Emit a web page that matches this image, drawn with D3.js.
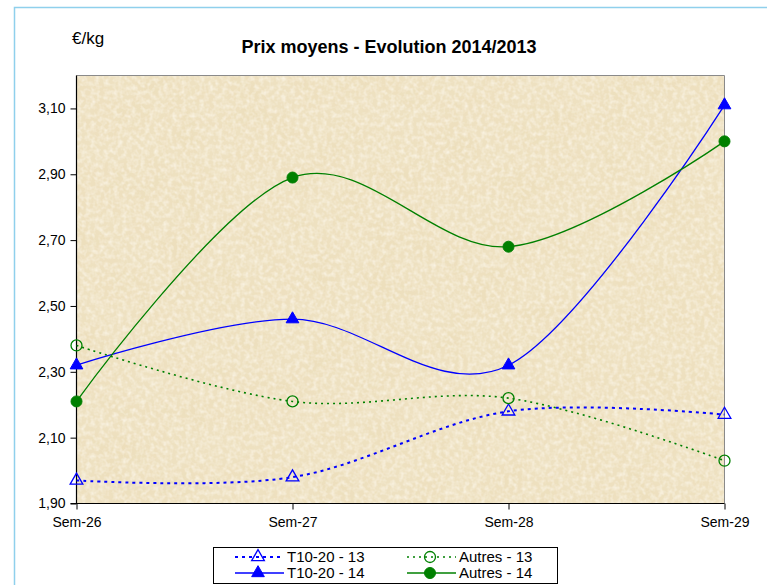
<!DOCTYPE html>
<html><head><meta charset="utf-8">
<script src="https://cdn.jsdelivr.net/npm/d3@7"></script>
<style>body{margin:0;background:#fff;}svg{display:block;font-family:"Liberation Sans",Arial,sans-serif;}</style>
</head><body>
<script>
const categories = ["Sem-26","Sem-27","Sem-28","Sem-29"];
const t1020_13 = [1.97, 1.98, 2.18, 2.17];
const autres_13 = [2.38, 2.21, 2.22, 2.03];
const t1020_14 = [2.32, 2.46, 2.32, 3.11];
const autres_14 = [2.21, 2.89, 2.68, 3.00];
const yTicks = [1.9, 2.1, 2.3, 2.5, 2.7, 2.9, 3.1];
const seriesNames = ["T10-20 - 13","Autres - 13","T10-20 - 14","Autres - 14"];

const W = 767, H = 585;
const svg = d3.select("body").append("svg").attr("width", W).attr("height", H);

// outer frame
svg.append("path").attr("d", "M14.5,585 V7.5 H767").attr("fill","none").attr("stroke","#8fd0ec").attr("stroke-width",1.5);

const L = 76.5, R = 724.5, T = 75.5, B = 503.5;
const x = d3.scalePoint().domain(categories).range([L, R]);
const y = d3.scaleLinear().domain([1.9, 3.2]).range([B, T]);

// texture
const defs = svg.append("defs");
const f = defs.append("filter").attr("id","paper").attr("x",0).attr("y",0).attr("width","100%").attr("height","100%");
f.append("feTurbulence").attr("type","fractalNoise").attr("baseFrequency","0.03").attr("numOctaves",4).attr("seed",7).attr("result","n");
f.append("feColorMatrix").attr("in","n").attr("type","matrix")
  .attr("values","0 0 0 0 0.84  0 0 0 0 0.72  0 0 0 0 0.48  1.3 0 0 0 -0.52");
const f2 = defs.append("filter").attr("id","paper2").attr("x",0).attr("y",0).attr("width","100%").attr("height","100%");
f2.append("feTurbulence").attr("type","fractalNoise").attr("baseFrequency","0.22").attr("numOctaves",2).attr("seed",3).attr("result","n");
f2.append("feColorMatrix").attr("in","n").attr("type","matrix")
  .attr("values","0 0 0 0 1  0 0 0 0 0.97  0 0 0 0 0.9  1.2 0 0 0 -0.45");

svg.append("rect").attr("x",L).attr("y",T).attr("width",R-L).attr("height",B-T).attr("fill","#eee1c1");
svg.append("rect").attr("x",L).attr("y",T).attr("width",R-L).attr("height",B-T).attr("filter","url(#paper)");
svg.append("rect").attr("x",L).attr("y",T).attr("width",R-L).attr("height",B-T).attr("filter","url(#paper2)");
// plot border top/right grey
svg.append("path").attr("d",`M${L},${T} H${R} V${B}`).attr("fill","none").attr("stroke","#8a8a8a").attr("stroke-width",1);

// axes
const yAxis = svg.append("g").attr("transform",`translate(${L},0)`)
  .call(d3.axisLeft(y).tickValues(yTicks).tickSize(6).tickPadding(5).tickFormat(d => d3.format(".2f")(d).replace(".",",")));
const xAxis = svg.append("g").attr("transform",`translate(0,${B})`)
  .call(d3.axisBottom(x).tickSize(6).tickPadding(8));
[yAxis, xAxis].forEach(a => {
  a.select(".domain").attr("stroke","#000").attr("stroke-width",1.2);
  a.selectAll(".tick line").attr("stroke","#000");
  a.selectAll("text").attr("font-size",14).attr("fill","#000").attr("font-family","Liberation Sans, Arial, sans-serif");
});
yAxis.select(".domain").attr("d",`M-6,${B}H0V${T}`);
xAxis.select(".domain").attr("d",`M${L},0H${R}`);

// series
const series = [
  {name: seriesNames[0], values: t1020_13, color:"#0000ff", dash:"3,4", width:2, marker:"tri", filled:false},
  {name: seriesNames[1], values: autres_13, color:"#008000", dash:"2,4", width:1.6, marker:"circ", filled:false},
  {name: seriesNames[2], values: t1020_14, color:"#0000ff", dash:null, width:1.3, marker:"tri", filled:true},
  {name: seriesNames[3], values: autres_14, color:"#008000", dash:null, width:1.3, marker:"circ", filled:true},
];
const line = d3.line().x((d,i) => x(categories[i])).y(d => y(d)).curve(d3.curveCardinal.tension(0));
const triPath = d3.symbol().type(d3.symbolTriangle).size(70);
const circPath = d3.symbol().type(d3.symbolCircle).size(95);

function drawMarker(g, s, cx, cy) {
  g.append("path").attr("transform",`translate(${cx},${cy})`)
    .attr("d", s.marker === "tri" ? triPath() : circPath())
    .attr("stroke", s.color).attr("stroke-width", s.filled ? 1 : 1.3)
    .attr("fill", s.filled ? s.color : "none");
}

series.forEach(s => {
  const g = svg.append("g");
  g.append("path").datum(s.values).attr("d", line).attr("fill","none")
    .attr("stroke", s.color).attr("stroke-width", s.width)
    .attr("stroke-dasharray", s.dash);
  s.values.forEach((v,i) => drawMarker(g, s, x(categories[i]), y(v)));
});

// title & unit
svg.append("text").attr("x",389).attr("y",53).attr("text-anchor","middle").attr("font-size",18).attr("font-weight","bold").text("Prix moyens - Evolution 2014/2013");
svg.append("text").attr("x",72).attr("y",44).attr("font-size",17).text("€/kg");

// legend
const lg = svg.append("g");
lg.append("rect").attr("x",213.5).attr("y",547.5).attr("width",344).attr("height",36).attr("fill","#fff").attr("stroke","#000");
const pos = [[235,557],[407,557],[235,573],[407,573]];
series.forEach((s,i) => {
  const [lx, ly] = pos[i];
  lg.append("line").attr("x1",lx).attr("x2",lx+49).attr("y1",ly).attr("y2",ly)
    .attr("stroke",s.color).attr("stroke-width",s.width).attr("stroke-dasharray",s.dash);
  drawMarker(lg, s, lx+23, ly);
  lg.append("text").attr("x",lx+52).attr("y",ly+5).attr("font-size",15).text(s.name);
});
</script>
</body></html>
